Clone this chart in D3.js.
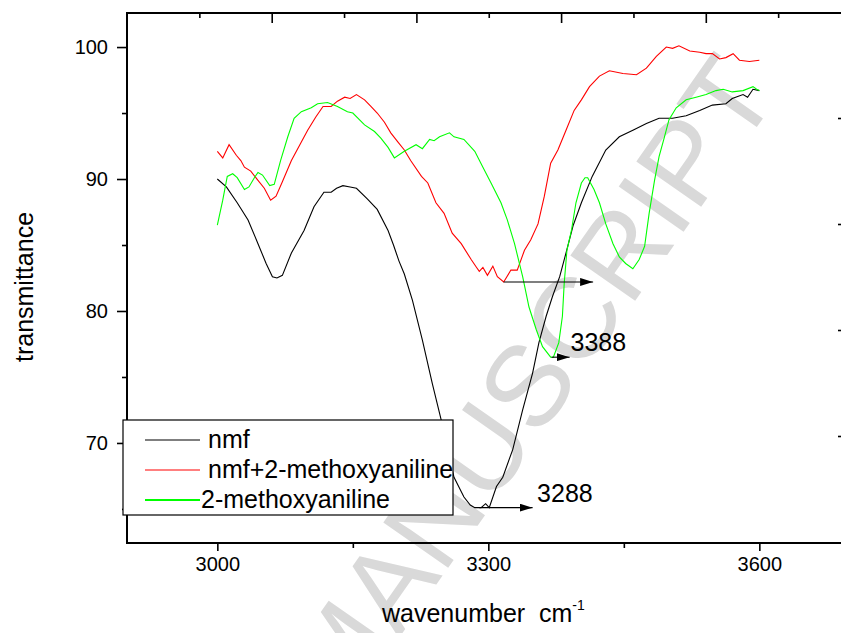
<!DOCTYPE html>
<meta charset="utf-8">
<style>
body { margin: 0; background: #fff; }
text { font-family: "Liberation Sans", Arial, sans-serif; }
.axis path, .axis line { stroke: #000; }
.curve { fill: none; stroke-width: 1.1px; }
</style>
<body>
<script src="https://d3js.org/d3.v7.min.js"></script>
<script>

// wavenumber (cm-1) and transmittance for each curve
var nmfX = [3000,3010,3022,3034,3045,3054,3061,3066,3072,3082,3096,3107,3118,3126,3132,3139,3147,3154,3166,3177,3189,3195,3201,3207,3216,3227,3238,3248,3255,3262,3273,3280,3285,3292,3297,3301,3309,3316,3327,3338,3349,3356,3364,3371,3379,3386,3394,3403,3415,3430,3445,3460,3475,3489,3504,3519,3534,3548,3563,3570,3582,3587,3593,3600];
var nmfY = [90.0,89.4,88.2,86.9,85.1,83.6,82.6,82.5,82.7,84.4,86.1,87.9,89.0,89.0,89.3,89.5,89.4,89.3,88.5,87.7,86.1,85.0,83.8,82.8,80.8,77.8,74.5,71.7,69.5,67.4,65.9,65.3,65.1,65.1,65.4,65.1,66.7,67.4,69.5,72.5,75.3,77.6,79.6,81.1,82.6,84.4,86.5,88.2,90.2,92.2,93.2,93.7,94.2,94.6,94.6,94.8,95.2,95.6,95.7,96.1,96.4,96.2,96.8,96.7];

var mixX = [3000,3006,3013,3021,3026,3030,3037,3045,3052,3059,3065,3072,3082,3093,3100,3109,3117,3126,3133,3141,3147,3154,3163,3170,3177,3185,3192,3200,3207,3214,3226,3233,3242,3251,3260,3270,3281,3287,3290,3294,3299,3305,3310,3317,3325,3332,3340,3347,3355,3362,3369,3377,3386,3395,3403,3412,3423,3434,3449,3464,3475,3486,3497,3504,3511,3523,3534,3541,3548,3556,3563,3571,3578,3589,3600];
var mixY = [92.1,91.6,92.6,91.8,91.4,90.9,90.6,89.9,89.3,88.4,88.7,89.8,91.4,92.8,93.7,94.7,95.5,95.5,95.9,96.2,96.1,96.4,96.0,95.5,95.0,94.3,93.5,92.8,92.2,91.4,90.2,89.7,88.2,87.4,85.9,85.1,83.9,83.3,83.0,83.3,82.7,83.4,82.6,82.2,83.1,83.1,84.6,85.4,86.6,88.7,91.2,92.2,93.7,95.2,96.0,97.0,97.8,98.2,98.0,97.9,98.4,99.3,100.0,99.9,100.1,99.7,99.6,99.5,99.5,99.1,99.2,99.5,99.0,98.9,99.0];

var maX = [3000,3006,3011,3017,3022,3030,3035,3041,3045,3050,3058,3063,3070,3078,3085,3093,3104,3111,3122,3133,3144,3150,3163,3174,3181,3189,3196,3207,3220,3227,3235,3240,3246,3257,3262,3273,3285,3294,3303,3314,3321,3329,3338,3345,3353,3360,3369,3372,3378,3382,3384,3387,3392,3397,3403,3407,3410,3417,3423,3430,3438,3445,3452,3460,3467,3473,3478,3484,3489,3495,3500,3508,3519,3530,3541,3552,3560,3570,3582,3593,3597,3600];
var maY = [86.5,88.4,90.2,90.4,90.1,89.2,89.4,90.1,90.5,90.3,89.5,89.6,91.4,93.2,94.6,95.1,95.4,95.7,95.8,95.5,95.1,95.0,94.1,93.6,93.1,92.4,91.6,92.1,92.6,92.3,93.0,92.9,93.2,93.5,93.2,93.0,92.1,90.9,89.7,88.2,86.9,85.1,82.6,80.3,78.6,77.3,76.5,76.5,77.6,79.6,82.1,84.6,86.1,88.2,89.7,90.1,90.1,89.2,88.2,86.6,85.1,84.1,83.6,83.2,83.9,84.9,87.4,89.9,91.7,93.2,94.5,95.4,96.0,96.2,96.4,96.7,96.8,96.6,96.7,97.0,96.8,96.7];

var seriesNames = ["nmf", "nmf+2-methoxyaniline", "2-methoxyaniline"];
var seriesColors = ["#000000", "#ff0000", "#00ff00"];

// axis ticks
var xMajor = [3000, 3300, 3600];
var xMinor = [3150, 3450];
var yMajor = [70, 80, 90, 100];
var yMinor = [65, 75, 85, 95];

// peak annotations: arrow start, arrow end, level, label
var arrowFrom = [3290, 3370, 3317];
var arrowTo = [3349, 3390, 3416];
var arrowLevel = [65.1, 76.5, 82.2];
var peakLabels = ["3288", "3388"];
var peakLabelX = [3354, 3391];
var peakLabelY = [65.5, 77.0];

var W = 841, H = 633;
var mLeft = 127, mTop = 13, mBottom = 543, mRight = 846;

var x = d3.scaleLinear().domain([2900, 3700]).range([mLeft, mLeft + 800 * 0.90333]);
var y = d3.scaleLinear().domain([62.42, 102.58]).range([mBottom, mTop]);
// frame scales for the top and right tick marks
var xTop = d3.scaleLinear().domain([0, 5]).range([mLeft, mLeft + 5 * 144.7]);
var yRight = d3.scaleLinear().domain([0, 5]).range([12, 542]);

var svg = d3.select("body").append("svg")
    .attr("width", W)
    .attr("height", H);

// watermark
svg.append("text")
    .attr("transform", "translate(780,94) rotate(-55)")
    .attr("text-anchor", "end")
    .attr("font-size", "115px")
    .attr("fill", "#d9d9d9")
    .text("ACCEPTED MANUSCRIPT");

// curves
var line = d3.line()
    .x(function(d) { return x(d[0]); })
    .y(function(d) { return y(d[1]); });

var sets = [d3.zip(nmfX, nmfY), d3.zip(mixX, mixY), d3.zip(maX, maY)];
sets.forEach(function(s, i) {
  svg.append("path")
      .datum(s)
      .attr("class", "curve")
      .attr("stroke", seriesColors[i])
      .attr("d", line);
});

// arrows
var defs = svg.append("defs");
defs.append("marker")
    .attr("id", "head")
    .attr("viewBox", "0 0 13 8")
    .attr("refX", 13)
    .attr("refY", 4)
    .attr("markerWidth", 13)
    .attr("markerHeight", 8)
    .attr("markerUnits", "userSpaceOnUse")
    .attr("orient", "auto")
  .append("path")
    .attr("d", "M0,0L13,4L0,8Z")
    .attr("fill", "#000");

arrowFrom.forEach(function(a, i) {
  svg.append("line")
      .attr("x1", x(a))
      .attr("x2", x(arrowTo[i]))
      .attr("y1", y(arrowLevel[i]))
      .attr("y2", y(arrowLevel[i]))
      .attr("stroke", "#000")
      .attr("stroke-width", 1.1)
      .attr("marker-end", "url(#head)");
});

peakLabels.forEach(function(t, i) {
  svg.append("text")
      .attr("x", x(peakLabelX[i]))
      .attr("y", y(peakLabelY[i]))
      .attr("font-size", "25px")
      .text(t);
});

// axes
var gx = svg.append("g")
    .attr("class", "axis")
    .attr("transform", "translate(0," + mBottom + ")")
    .call(d3.axisBottom(x).tickValues(xMajor).tickSize(8).tickPadding(6).tickFormat(d3.format("d")));
gx.select(".domain").remove();
gx.selectAll("text").attr("font-size", "20px").attr("font-family", null);
gx.selectAll("line").attr("stroke-width", 1.6);

var gx2 = svg.append("g")
    .attr("class", "axis")
    .attr("transform", "translate(0," + mBottom + ")")
    .call(d3.axisBottom(x).tickValues(xMinor).tickSize(5).tickFormat(""));
gx2.select(".domain").remove();
gx2.selectAll("line").attr("stroke-width", 1.6);

var gy = svg.append("g")
    .attr("class", "axis")
    .attr("transform", "translate(" + mLeft + ",0)")
    .call(d3.axisLeft(y).tickValues(yMajor).tickSize(10).tickPadding(9));
gy.select(".domain").remove();
gy.selectAll("text").attr("font-size", "20px").attr("font-family", null);
gy.selectAll("line").attr("stroke-width", 1.6);

var gy2 = svg.append("g")
    .attr("class", "axis")
    .attr("transform", "translate(" + mLeft + ",0)")
    .call(d3.axisLeft(y).tickValues(yMinor).tickSize(5).tickFormat(""));
gy2.select(".domain").remove();
gy2.selectAll("line").attr("stroke-width", 1.6);

var gt = svg.append("g")
    .attr("class", "axis")
    .attr("transform", "translate(0," + mTop + ")")
    .call(d3.axisBottom(xTop).tickValues([1, 2, 3, 4]).tickSize(10).tickFormat(""));
gt.select(".domain").remove();
gt.selectAll("line").attr("stroke-width", 1.6);
var gt2 = svg.append("g")
    .attr("class", "axis")
    .attr("transform", "translate(0," + mTop + ")")
    .call(d3.axisBottom(xTop).tickValues([0.5, 1.5, 2.5, 3.5, 4.5]).tickSize(5).tickFormat(""));
gt2.select(".domain").remove();
gt2.selectAll("line").attr("stroke-width", 1.6);

var gr = svg.append("g")
    .attr("class", "axis")
    .attr("transform", "translate(" + mRight + ",0)")
    .call(d3.axisLeft(yRight).tickValues([1, 2, 3, 4]).tickSize(8).tickFormat(""));
gr.select(".domain").remove();
gr.selectAll("line").attr("stroke-width", 1.6);

// frame lines
svg.append("path")
    .attr("d", "M" + mRight + "," + mTop + "H" + mLeft + "V" + mBottom + "H" + mRight)
    .attr("fill", "none")
    .attr("stroke", "#000")
    .attr("stroke-width", 2);

// axis titles
svg.append("text")
    .attr("transform", "translate(33,287) rotate(-90)")
    .attr("text-anchor", "middle")
    .attr("font-size", "25px")
    .text("transmittance");

var xt = svg.append("text")
    .attr("x", 382)
    .attr("y", 622)
    .attr("font-size", "25px")
    .style("white-space", "pre")
    .text("wavenumber  cm");
xt.append("tspan")
    .attr("font-size", "14px")
    .attr("dy", -12)
    .text("-1");

// legend
var legend = svg.append("g");
legend.append("rect")
    .attr("x", 123)
    .attr("y", 420)
    .attr("width", 330)
    .attr("height", 95)
    .attr("fill", "#fff")
    .attr("stroke", "#000")
    .attr("stroke-width", 1.2);

seriesNames.forEach(function(n, i) {
  var ly = 440 + i * 30;
  legend.append("line")
      .attr("x1", 145).attr("x2", 200)
      .attr("y1", ly).attr("y2", ly)
      .attr("stroke", seriesColors[i])
      .attr("stroke-width", i == 2 ? 2 : 1.2);
  legend.append("text")
      .attr("x", i == 2 ? 201 : 208)
      .attr("y", ly + 8)
      .attr("font-size", "25px")
      .text(n);
});

</script>
</body>
